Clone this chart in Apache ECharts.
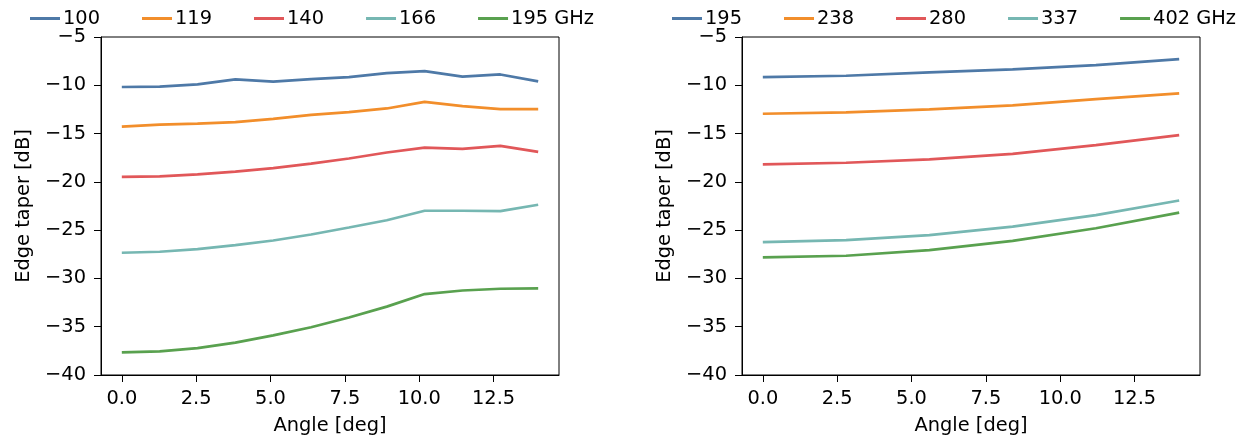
<!DOCTYPE html>
<html>
<head>
<meta charset="utf-8">
<script src="https://cdn.jsdelivr.net/npm/echarts@6/dist/echarts.min.js"></script>
<style>
html,body{margin:0;padding:0;background:#fff;}
#chart{width:1239px;height:440px;}
</style>
</head>
<body>
<div id="chart"></div>
<script>
// ---- data ----
const leftAngles = [0, 1.273, 2.545, 3.818, 5.091, 6.364, 7.636, 8.909, 10.182, 11.455, 12.727, 14];
const leftNames = ["100", "119", "140", "166", "195 GHz"];
const left100 = [-10.18, -10.14, -9.90, -9.39, -9.63, -9.36, -9.15, -8.74, -8.54, -9.11, -8.88, -9.59];
const left119 = [-14.29, -14.08, -13.98, -13.81, -13.47, -13.06, -12.78, -12.40, -11.72, -12.16, -12.47, -12.47];
const left140 = [-19.49, -19.43, -19.22, -18.95, -18.57, -18.12, -17.58, -16.96, -16.45, -16.58, -16.27, -16.89];
const left166 = [-27.34, -27.24, -26.96, -26.55, -26.07, -25.45, -24.73, -23.98, -22.99, -22.99, -23.03, -22.37];
const left195 = [-37.65, -37.55, -37.21, -36.65, -35.90, -35.05, -34.05, -32.92, -31.62, -31.25, -31.07, -31.04];

const rightAngles = [0, 2.8, 5.6, 8.4, 11.2, 14];
const rightNames = ["195", "238", "280", "337", "402 GHz"];
const right195 = [-9.15, -9.01, -8.67, -8.36, -7.92, -7.30];
const right238 = [-12.95, -12.81, -12.50, -12.09, -11.44, -10.83];
const right280 = [-18.20, -18.02, -17.68, -17.10, -16.20, -15.17];
const right337 = [-26.24, -26.04, -25.52, -24.63, -23.44, -21.93];
const right402 = [-27.82, -27.65, -27.07, -26.11, -24.80, -23.19];

const xTicks = [0, 2.5, 5, 7.5, 10, 12.5];
const yTicks = [-40, -35, -30, -25, -20, -15, -10, -5];
const xTitle = "Angle [deg]";
const yTitle = "Edge taper [dB]";

const colors = ["#4e79a7", "#f28e2b", "#e15759", "#76b7b2", "#59a14f"];

// ---- chart ----
const FONT = "DejaVu Sans";
const FS = 19.4;
const zip = (xs, ys) => xs.map((x, i) => [x, ys[i]]);
const fmtY = v => (v < 0 ? "\u2212" : "") + Math.abs(v);

function xAxis(idx) {
  return {
    type: "value", gridIndex: idx, min: -0.7, max: 14.7,
    name: xTitle, nameLocation: "middle", nameGap: 41,
    nameTextStyle: {fontFamily: FONT, fontSize: FS, color: "#000"},
    axisLine: {show: true, onZero: false, lineStyle: {color: "#000", width: 1}},
    axisTick: {show: true, length: 7, customValues: xTicks, lineStyle: {color: "#000"}},
    axisLabel: {customValues: xTicks, formatter: v => v.toFixed(1), fontFamily: FONT, fontSize: FS, color: "#000", margin: 14},
    splitLine: {show: false}
  };
}
function yAxis(idx) {
  return {
    type: "value", gridIndex: idx, min: -40, max: -5, interval: 5,
    name: yTitle, nameLocation: "middle", nameGap: 68, nameRotate: 90,
    nameTextStyle: {fontFamily: FONT, fontSize: FS, color: "#000"},
    axisLine: {show: true, onZero: false, lineStyle: {color: "#000", width: 1}},
    axisTick: {show: true, length: 7, lineStyle: {color: "#000"}},
    axisLabel: {formatter: fmtY, fontFamily: FONT, fontSize: FS, color: "#000", margin: 15},
    splitLine: {show: false}
  };
}
function line(name, xs, ys, ci, gi) {
  return {
    name, type: "line", xAxisIndex: gi, yAxisIndex: gi,
    data: zip(xs, ys), showSymbol: false, symbol: "none",
    lineStyle: {width: 2.7, color: colors[ci]}, itemStyle: {color: colors[ci]},
    animation: false
  };
}

const leftData = [left100, left119, left140, left166, left195];
const rightData = [right195, right238, right280, right337, right402];
const series = [];
leftData.forEach((d, i) => series.push(line(leftNames[i], leftAngles, d, i, 0)));
rightData.forEach((d, i) => series.push(line(rightNames[i], rightAngles, d, i, 1)));

const legendBase = {
  top: 9, padding: 0, icon: "rect", itemWidth: 30, itemHeight: 3, itemGap: 42,
  textStyle: {fontFamily: FONT, fontSize: FS, color: "#000", padding: [0, 0, 0, -2]},
  selectedMode: false
};

const chart = echarts.init(document.getElementById("chart"), null, {renderer: "canvas"});
chart.setOption({
  backgroundColor: "#fff",
  animation: false,
  grid: [
    {left: 101, top: 37, width: 458, height: 341, show: true, borderColor: "#000", borderWidth: 1, backgroundColor: "transparent"},
    {left: 742, top: 37, width: 458, height: 341, show: true, borderColor: "#000", borderWidth: 1, backgroundColor: "transparent"}
  ],
  legend: [
    Object.assign({}, legendBase, {left: 30, data: leftNames}),
    Object.assign({}, legendBase, {left: 672, data: rightNames})
  ],
  xAxis: [xAxis(0), xAxis(1)],
  yAxis: [yAxis(0), yAxis(1)],
  series
});
</script>
</body>
</html>
